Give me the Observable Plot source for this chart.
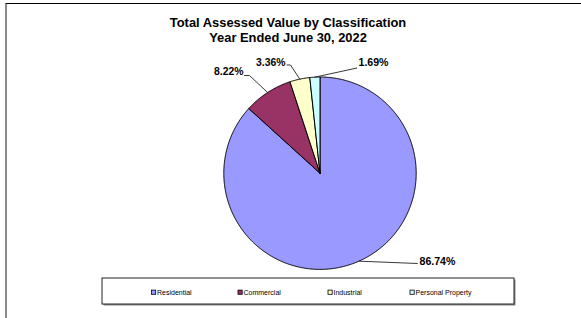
<!DOCTYPE html>
<html><head><meta charset="utf-8">
<script src="https://cdn.jsdelivr.net/npm/d3@7"></script>
<script src="https://cdn.jsdelivr.net/npm/@observablehq/plot@0.6"></script>
<style>
html,body{margin:0;padding:0;background:#fff;}
#chart{position:relative;width:581px;height:318px;overflow:hidden;}
#chart svg{position:absolute;left:0;top:0;}
#frame{position:absolute;left:5px;top:3px;width:580px;height:320px;border-top:1.5px solid #000;border-left:2px solid #8a8a8a;box-sizing:border-box;pointer-events:none;}
</style></head><body>
<div id="chart"></div>
<script>
// ---- data ----
const titleLines = ["Total Assessed Value by Classification", "Year Ended June 30, 2022"];
const categories = ["Residential", "Commercial", "Industrial", "Personal Property"];
const values = [86.74, 8.22, 3.36, 1.69];
const valueLabels = ["86.74%", "8.22%", "3.36%", "1.69%"];
const colors = ["#9999FF", "#993366", "#FFFFCC", "#CCFFFF"];

// ---- layout ----
const W = 581, H = 318;
const cx = 319.5, cy = 172.7, R = 96.2;
const font = "'Liberation Sans', Arial, sans-serif";
const titleX = 287.5, titleY = [22.2, 37.3];
// label placement: elbow of leader line, end of leader, text point, anchor
const labelLayout = [
  {elbow: [417, 263], end: [417, 263], text: [419, 261], anchor: "start"},
  {elbow: [249, 75], end: [244, 75], text: [243, 71.5], anchor: "end"},
  {elbow: [290, 64.5], end: [286.5, 64.5], text: [285, 62.5], anchor: "end"},
  {elbow: [356.5, 67.5], end: [356.5, 67.5], text: [358, 62.5], anchor: "start"}
];
const legendBox = {x1: 102, x2: 514, y1: 278, y2: 304};
const legendX = [151.5, 238, 328, 410];
const legendY = 292.2, sw = 4.2;

// ---- geometry from data ----
const arcs = d3.pie().sort(null).value(d => d.value).startAngle(0).endAngle(2 * Math.PI)(
  categories.map((name, i) => ({name, value: values[i]})));
const pt = (a, r) => [cx + r * Math.sin(a), cy - r * Math.cos(a)];
const slicePts = [];
arcs.forEach(a => {
  const name = a.data.name;
  slicePts.push({name, x: cx, y: cy});
  const n = Math.max(4, Math.ceil((a.endAngle - a.startAngle) / (Math.PI / 360)));
  for (let k = 0; k <= n; k++) {
    const t = a.startAngle + (a.endAngle - a.startAngle) * k / n;
    const [x, y] = pt(t, R);
    slicePts.push({name, x, y});
  }
  slicePts.push({name, x: cx, y: cy});
});
const leaderPts = [];
const labelRows = [];
arcs.forEach((a, i) => {
  const mid = (a.startAngle + a.endAngle) / 2;
  const [ex, ey] = pt(mid, R);
  const L = labelLayout[i];
  leaderPts.push({i, x: ex, y: ey}, {i, x: L.elbow[0], y: L.elbow[1]}, {i, x: L.end[0], y: L.end[1]});
  labelRows.push({label: valueLabels[i], x: L.text[0], y: L.text[1], anchor: L.anchor});
});
const legendRows = categories.map((name, i) => ({name, x: legendX[i], y: legendY}));

const colorScale = {domain: categories, range: colors};

const plot = Plot.plot({
  width: W, height: H, margin: 0,
  x: {domain: [0, W], range: [0, W], axis: null},
  y: {domain: [0, H], range: [0, H], axis: null},
  color: colorScale,
  style: {fontFamily: font, background: "transparent"},
  marks: [
    // pie slices
    Plot.line(slicePts, {x: "x", y: "y", z: "name", fill: "name", stroke: "#000", strokeWidth: 1, curve: "linear", strokeLinejoin: "round"}),
    // leader lines
    Plot.line(leaderPts, {x: "x", y: "y", z: "i", stroke: "#222", strokeWidth: 0.9}),
    // value labels
    Plot.text(labelRows.filter(d => d.anchor === "start"), {x: "x", y: "y", text: "label", textAnchor: "start", fontSize: 10.6, fontWeight: "bold", fill: "#000"}),
    Plot.text(labelRows.filter(d => d.anchor === "end"), {x: "x", y: "y", text: "label", textAnchor: "end", fontSize: 10.4, fontWeight: "bold", fill: "#000"}),
    // title
    Plot.text(titleLines.map((t, i) => ({t, x: titleX, y: titleY[i]})), {x: "x", y: "y", text: "t", fontSize: 12.9, fontWeight: "bold", fill: "#000"}),
    // legend box with shadow
    Plot.rect([legendBox], {x1: d => d.x1 + 1.5, x2: d => d.x2 + 1.5, y1: d => d.y1 + 1.5, y2: d => d.y2 + 1.5, fill: "#888"}),
    Plot.rect([legendBox], {x1: "x1", x2: "x2", y1: "y1", y2: "y2", fill: "#fff", stroke: "#222", strokeWidth: 1}),
    // legend swatches and names
    Plot.rect(legendRows, {x1: "x", x2: d => d.x + sw, y1: d => d.y - sw / 2, y2: d => d.y + sw / 2, fill: "name", stroke: "#000", strokeWidth: 0.8}),
    Plot.text(legendRows, {x: d => d.x + sw + 0.8, y: "y", text: "name", textAnchor: "start", fontSize: 7, fill: "#000"})
  ]
});
const chart = document.getElementById("chart");
chart.style.background = "#fff";
chart.appendChild(plot);
const frame = document.createElement("div");
frame.id = "frame";
chart.appendChild(frame);
</script>
</body></html>
